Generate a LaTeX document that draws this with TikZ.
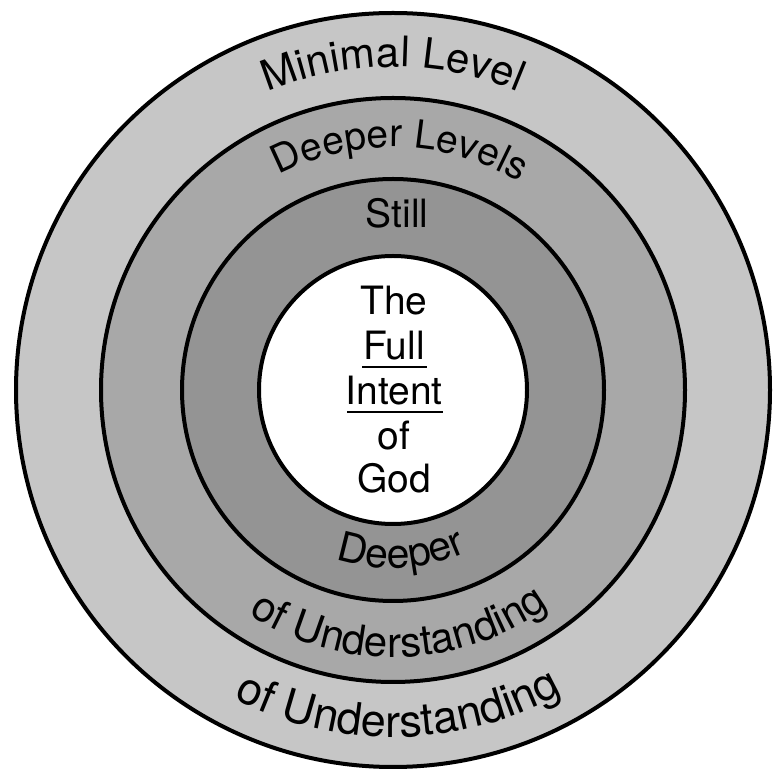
\documentclass[tikz,border=0pt]{standalone}
\usepackage{fontspec}
\setmainfont{TeX Gyre Heros}
\usetikzlibrary{decorations.text}
\definecolor{ringA}{RGB}{198,198,198}
\definecolor{ringB}{RGB}{168,168,168}
\definecolor{ringC}{RGB}{148,148,148}
\newcommand\midfont{\fontsize{39}{46}\selectfont}
\begin{document}
\begin{tikzpicture}[x=1pt,y=1pt,
  ring/.style={circle, draw=black, line width=4pt, inner sep=0pt},
  word/.style={anchor=base, inner sep=0pt, font=\midfont},
  uline/.style={line width=2.2pt},
  arctext/.style 2 args={decorate, decoration={text along path, text={|\fontsize{#1}{#1}\selectfont|#2}, text align=center}}]
\useasboundingbox (0,0) rectangle (772,774);
\fill[white] (0,0) rectangle (772,774);
\coordinate (c) at (393,384);
\node[ring, fill=ringA, minimum size=754pt] (outer) at (c) {};
\node[ring, fill=ringB, minimum size=584pt] (second) at (c) {};
\node[ring, fill=ringC, minimum size=422pt] (third) at (c) {};
\node[ring, fill=white, minimum size=268pt] (inner) at (c) {};
% top arc texts
\path[arctext={42}{Minimal Level}] ([shift={(150:323)}]c) arc[start angle=150, end angle=30, radius=323];
\path[arctext={39}{Deeper Levels}] ([shift={(148.3:243)}]c) arc[start angle=148.3, end angle=28.3, radius=243];
\node[word] (still) at (397,546) {Still};
% bottom arc texts
\path[arctext={41}{Deeper}] ([shift={(213:178)}]c) arc[start angle=213, end angle=333, radius=178];
\path[arctext={42}{of Understanding}] ([shift={(211.5:267)}]c) arc[start angle=211.5, end angle=331.5, radius=267];
\path[arctext={45}{of Understanding}] ([shift={(211:347)}]c) arc[start angle=211, end angle=331, radius=347];
% centre text
\node[word] (the) at (394,459) {The};
\node[word] (full) at (394,414) {Full};
\node[word] (intent) at (394,369) {Intent};
\node[word] (of) at (394,324) {of};
\node[word] (god) at (394,281) {God};
\coordinate (fl) at (362,407);
\coordinate (fr) at (427,407);
\coordinate (il) at (347,362);
\coordinate (ir) at (443,362);
\draw[uline] (fl) -- (fr);
\draw[uline] (il) -- (ir);
\end{tikzpicture}
\end{document}
